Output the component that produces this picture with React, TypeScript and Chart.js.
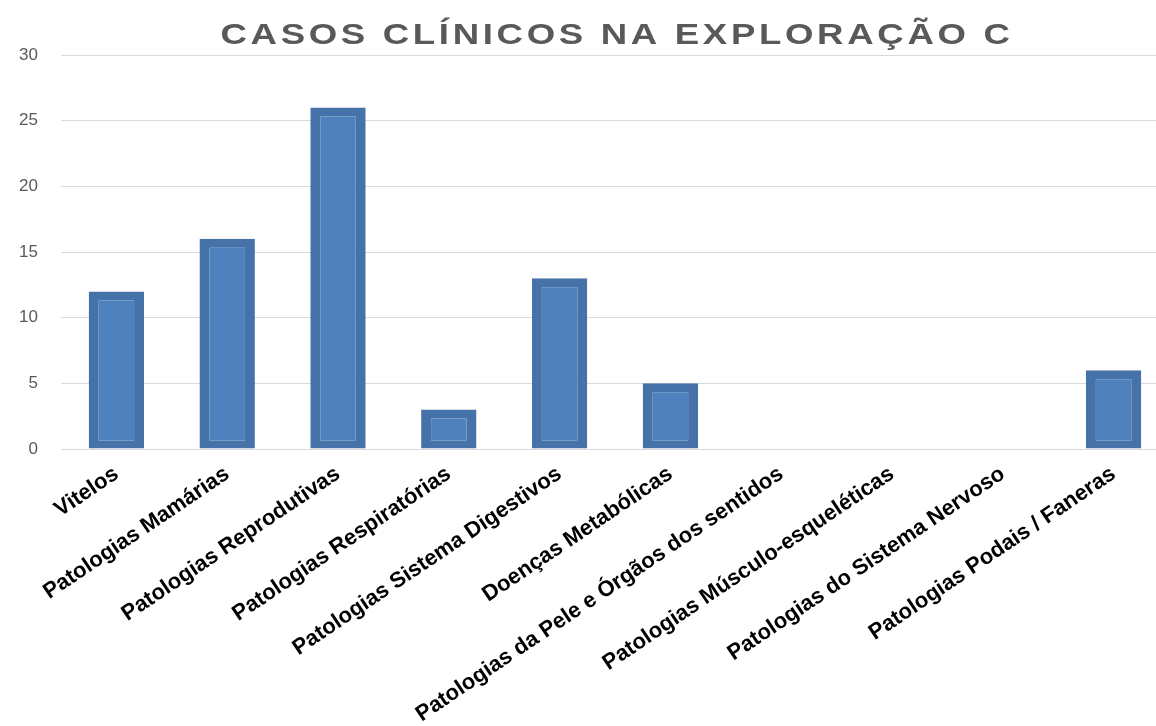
import React, { useEffect, useRef } from "react";
import { Chart, registerables } from "chart.js";

Chart.register(...registerables);

const TITLE = "CASOS CLÍNICOS NA EXPLORAÇÃO C";
const categories = [
  "Vitelos",
  "Patologias Mamárias",
  "Patologias Reprodutivas",
  "Patologias Respiratórias",
  "Patologias Sistema Digestivos",
  "Doenças Metabólicas",
  "Patologias da Pele e Órgãos dos sentidos",
  "Patologias Músculo-esqueléticas",
  "Patologias do Sistema Nervoso",
  "Patologias Podais / Faneras",
];
const values = [12, 16, 26, 3, 13, 5, 0, 0, 0, 6];
const yTicks = [0, 5, 10, 15, 20, 25, 30];

const CANVAS_W = 1172;
const CANVAS_H = 800;

const titlePlugin = {
  id: "customTitle",
  afterDraw(chart: any) {
    const ctx = chart.ctx;
    ctx.save();
    ctx.font = "bold 30px 'Liberation Sans', Arial, sans-serif";
    ctx.fillStyle = "#595959";
    ctx.textAlign = "center";
    ctx.textBaseline = "alphabetic";
    try {
      (ctx as any).letterSpacing = "3px";
    } catch (e) {}
    ctx.translate(617, 44);
    ctx.scale(1.22, 1);
    ctx.fillText(TITLE, 0, 0);
    ctx.restore();
  },
};

export default function App() {
  const ref = useRef<HTMLCanvasElement | null>(null);

  useEffect(() => {
    if (!ref.current) return;
    const chart = new Chart(ref.current, {
      type: "bar",
      data: {
        labels: categories,
        datasets: [
          {
            data: values,
            backgroundColor: "#4F81BD",
            borderColor: "#4672AA",
            borderWidth: { top: 9, left: 10, right: 10, bottom: 8 } as any,
            borderSkipped: false,
            barPercentage: 0.5,
            categoryPercentage: 1,
          },
        ],
      },
      options: {
        responsive: false,
        animation: false,
        layout: { padding: { top: 55, right: 3, left: 0, bottom: 0 } },
        plugins: {
          legend: { display: false },
          title: { display: false },
          tooltip: { enabled: false },
        },
        scales: {
          x: {
            grid: { display: false, drawTicks: false },
            border: { display: true, color: "#D9D9D9", width: 1 },
            afterFit(scale: any) {
              scale.height = CANVAS_H - 449;
            },
            ticks: {
              autoSkip: false,
              minRotation: 34,
              maxRotation: 34,
              padding: 12,
              color: "#000000",
              font: { family: "'Liberation Sans', Arial, sans-serif", size: 22, weight: "bold" },
            },
          },
          y: {
            min: 0,
            max: 30,
            afterFit(scale: any) {
              scale.width = 61;
            },
            afterBuildTicks(scale: any) {
              scale.ticks = yTicks.map((v) => ({ value: v }));
            },
            grid: { color: "#D9D9D9", lineWidth: 1, drawTicks: false },
            border: { display: false },
            ticks: {
              padding: 23,
              color: "#595959",
              font: { family: "'Liberation Sans', Arial, sans-serif", size: 17 },
            },
          },
        },
      },
      plugins: [titlePlugin],
    });
    return () => chart.destroy();
  }, []);

  return (
    <div
      style={{
        position: "fixed",
        left: 0,
        top: 0,
        width: 1156,
        height: 726,
        overflow: "hidden",
        background: "#ffffff",
      }}
    >
      <canvas ref={ref} width={CANVAS_W} height={CANVAS_H} style={{ display: "block" }} />
    </div>
  );
}
